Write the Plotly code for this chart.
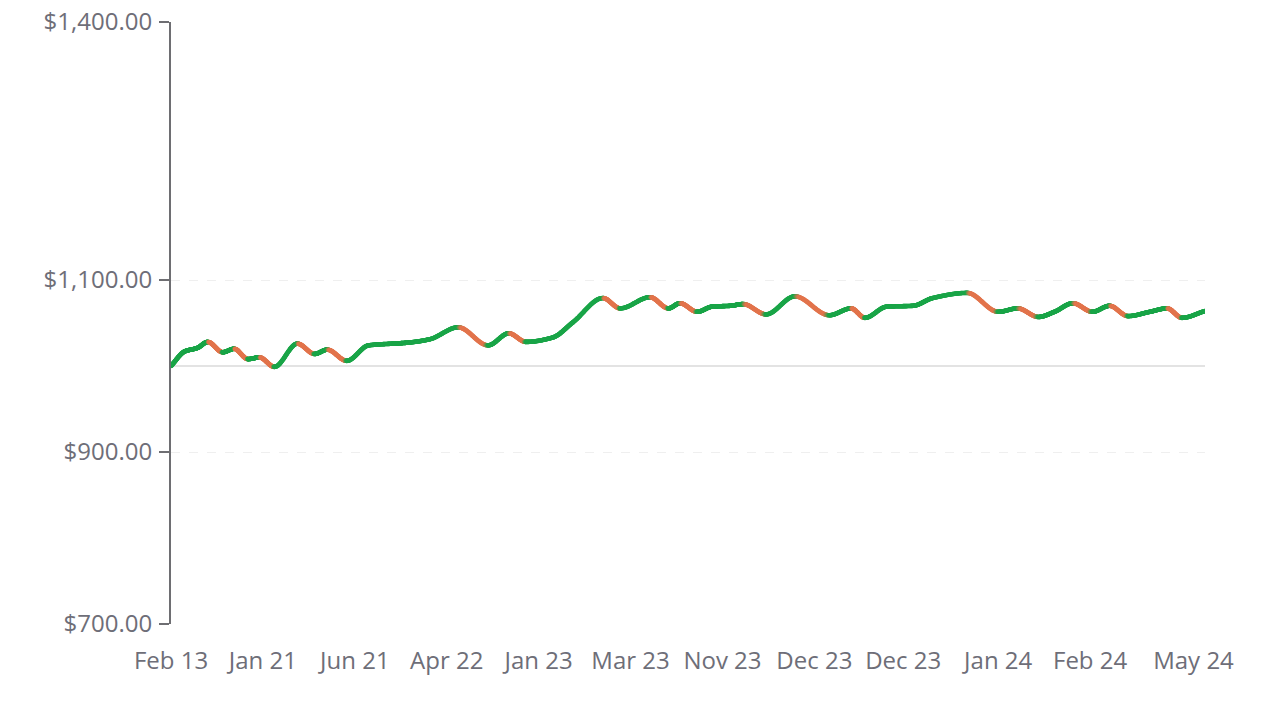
import numpy as np
import plotly.graph_objects as go

# ---- data ----
period = [0, 1.2, 2.3, 3.2, 4.5, 5.5, 6.7, 7.7, 9.0, 11.0, 12.5, 13.6, 15.3, 17.2, 19.3, 20.5,
          22.5, 25.0, 27.6, 29.4, 30.9, 33.2, 35.0, 37.6, 39.1, 41.7, 43.3, 44.3, 45.8, 47.1,
          48.7, 49.8, 51.8, 54.3, 57.3, 59.2, 60.4, 62.3, 64.6, 66.3, 69.3, 72.0, 73.7, 75.5,
          76.9, 78.5, 80.2, 81.7, 83.3, 85.2, 86.7, 88.0, 90.0]
value = [1000, 1017, 1021, 1028, 1016, 1020, 1008, 1010, 999, 1026, 1014, 1019, 1006, 1024, 1026, 1027,
         1031, 1045, 1024, 1038, 1028, 1033, 1051, 1079, 1067, 1080, 1067, 1073, 1063, 1069,
         1070, 1072, 1060, 1081, 1059, 1067, 1056, 1069, 1070, 1079, 1085, 1063, 1067, 1057,
         1063, 1073, 1063, 1070, 1058, 1063, 1067, 1056, 1064]
baseline = 1000

tick_pos = [0, 8, 16, 24, 32, 40, 48, 56, 64, 72, 80, 89]
tick_text = ["Feb 13", "Jan 21", "Jun 21", "Apr 22", "Jan 23", "Mar 23", "Nov 23",
             "Dec 23", "Dec 23 ", "Jan 24", "Feb 24", "May 24"]
y_ticks = [700, 900, 1100, 1400]
y_text = ["$700.00", "$900.00", "$1,100.00", "$1,400.00"]

GREEN = np.array([26, 165, 72])
ORANGE = np.array([226, 116, 76])
FONT = "Open Sans"
TEXT = "#6e6e78"


def monotone_curve(x, y, per_seg=60):
    x = np.asarray(x, float)
    y = np.asarray(y, float)
    n = len(x)
    h = np.diff(x)
    d = np.diff(y) / h
    m = np.zeros(n)
    m[0], m[-1] = d[0], d[-1]
    for i in range(1, n - 1):
        if d[i - 1] * d[i] <= 0:
            m[i] = 0
        else:
            w1 = 2 * h[i] + h[i - 1]
            w2 = h[i] + 2 * h[i - 1]
            m[i] = (w1 + w2) / (w1 / d[i - 1] + w2 / d[i])
    xs, ys, slopes = [], [], []
    for i in range(n - 1):
        t = np.linspace(0, 1, per_seg, endpoint=False)
        h00 = 2 * t**3 - 3 * t**2 + 1
        h10 = t**3 - 2 * t**2 + t
        h01 = -2 * t**3 + 3 * t**2
        h11 = t**3 - t**2
        xs.append(x[i] + t * h[i])
        ys.append(h00 * y[i] + h10 * h[i] * m[i] + h01 * y[i + 1] + h11 * h[i] * m[i + 1])
        dh00 = 6 * t**2 - 6 * t
        dh10 = 3 * t**2 - 4 * t + 1
        dh01 = -6 * t**2 + 6 * t
        dh11 = 3 * t**2 - 2 * t
        slopes.append((dh00 * y[i] + dh10 * h[i] * m[i] + dh01 * y[i + 1] + dh11 * h[i] * m[i + 1]) / h[i])
    xs.append([x[-1]]); ys.append([y[-1]]); slopes.append([m[-1]])
    return np.concatenate(xs), np.concatenate(ys), np.concatenate(slopes)


cx, cy, cs = monotone_curve(period, value)
# colour by slope: falling -> orange, rising/flat -> green
frac = np.clip(-cs / 5.0, 0, 1) ** 0.9
cols = [f"rgb({int(g[0])},{int(g[1])},{int(g[2])})" for g in
        (GREEN[None, :] * (1 - frac[:, None]) + ORANGE[None, :] * frac[:, None])]

fig = go.Figure()
fig.add_trace(go.Scatter(
    x=[period[0], period[-1]], y=[baseline, baseline], mode="lines",
    line=dict(color="#e3e3e3", width=2), hoverinfo="skip", showlegend=False))
fig.add_trace(go.Scatter(
    x=cx, y=cy, mode="markers",
    marker=dict(color=cols, size=4.6, line=dict(width=0)),
    hoverinfo="skip", showlegend=False))

fig.update_layout(
    width=1262, height=720,
    margin=dict(l=171, r=57, t=22, b=96, autoexpand=False),
    paper_bgcolor="white", plot_bgcolor="white",
    font=dict(family=FONT, size=24, color=TEXT),
    xaxis=dict(range=[0, 90], tickmode="array", tickvals=tick_pos, ticktext=tick_text,
               showgrid=False, zeroline=False, showline=False, ticks="",
               ticklabelstandoff=20, fixedrange=True, automargin=False),
    yaxis=dict(range=[700, 1400], tickmode="array", tickvals=y_ticks, ticktext=y_text,
               showgrid=True, gridcolor="#efefef", griddash="dash", gridwidth=1,
               zeroline=False, showline=True, linecolor="#6e6e72", linewidth=2,
               ticks="outside", ticklen=10, tickwidth=2, tickcolor="#6e6e72",
               ticklabelstandoff=2, fixedrange=True, automargin=False),
)

fig.write_html("out.html")
